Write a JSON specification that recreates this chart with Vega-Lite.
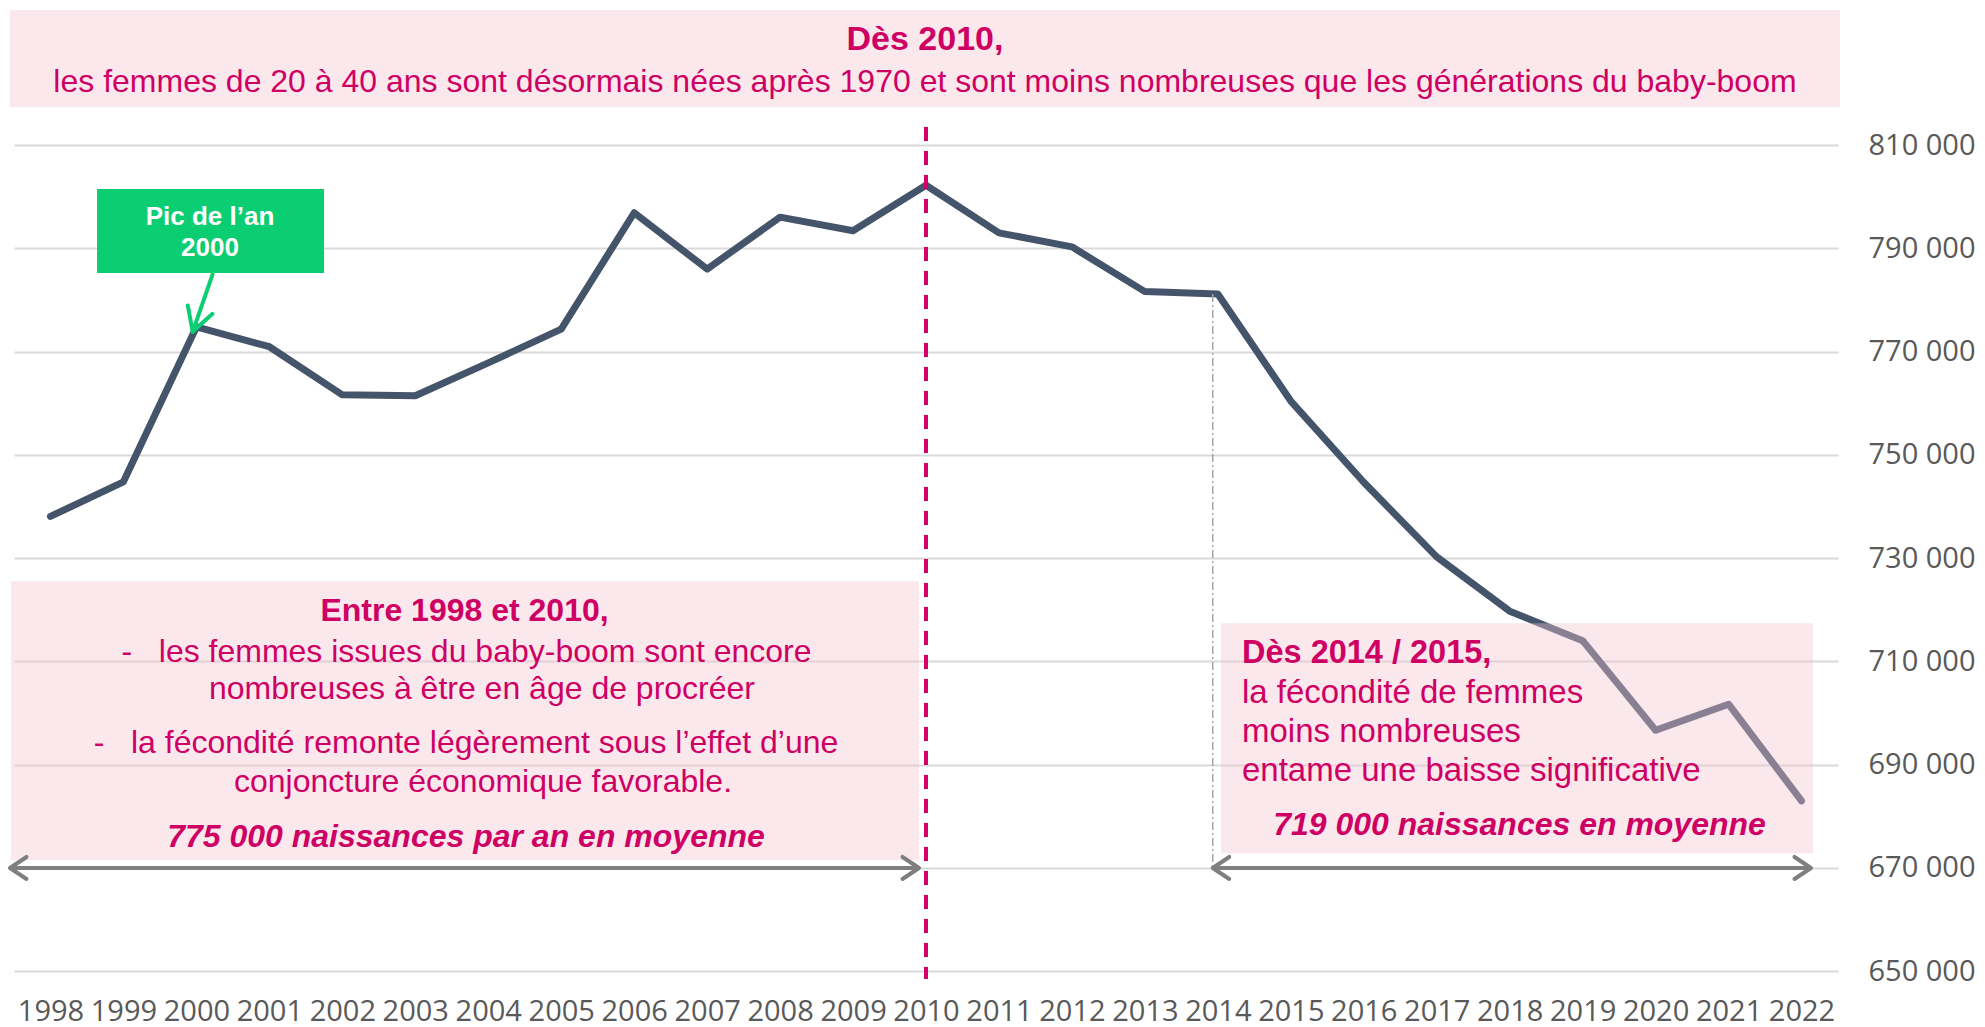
{
  "$schema": "https://vega.github.io/schema/vega-lite/v6.json",
  "width": 1824,
  "height": 852,
  "autosize": {"type": "none"},
  "padding": {"left": 14, "top": 127, "right": 147, "bottom": 48},
  "background": "white",
  "config": {"view": {"stroke": null}},
  "datasets": {
    "births": [
      {"year": 1998, "value": 738080},
      {"year": 1999, "value": 744791},
      {"year": 2000, "value": 774782},
      {"year": 2001, "value": 770945},
      {"year": 2002, "value": 761630},
      {"year": 2003, "value": 761464},
      {"year": 2004, "value": 767816},
      {"year": 2005, "value": 774355},
      {"year": 2006, "value": 796896},
      {"year": 2007, "value": 785985},
      {"year": 2008, "value": 796044},
      {"year": 2009, "value": 793420},
      {"year": 2010, "value": 802224},
      {"year": 2011, "value": 792996},
      {"year": 2012, "value": 790290},
      {"year": 2013, "value": 781621},
      {"year": 2014, "value": 781167},
      {"year": 2015, "value": 760421},
      {"year": 2016, "value": 744697},
      {"year": 2017, "value": 730242},
      {"year": 2018, "value": 719737},
      {"year": 2019, "value": 714029},
      {"year": 2020, "value": 696664},
      {"year": 2021, "value": 701719},
      {"year": 2022, "value": 683000}
    ],
    "boxes": [
      {"name": "top", "year": 1997.445, "year2": 2022.527, "value": 836150, "value2": 817361},
      {"name": "left", "year": 1997.459, "year2": 2009.904, "value": 725547, "value2": 671505},
      {"name": "right", "year": 2014.043, "year2": 2022.157, "value": 717411, "value2": 672860}
    ],
    "callout": [{"year": 1998.638, "year2": 2001.749, "value": 801477, "value2": 785206}],
    "calloutText": [
      {"year": 2000.186, "value": 796053, "label": "Pic de l’an"},
      {"year": 2000.186, "value": 790048, "label": "2000"}
    ],
    "calloutArrow": [{"year": 2000.223, "value": 785012, "year2": 1999.949, "value2": 773835}],
    "spans": [
      {"year": 1997.445, "year2": 2009.904, "value": 670000},
      {"year": 2013.93, "year2": 2022.13, "value": 670000}
    ],
    "guide2014": [{"year": 2013.93, "value": 781167, "value2": 670000}],
    "marker2010": [{"year": 2010}],
    "title2010": [{"year": 2009.986, "value": 830339, "label": "Dès 2010,"}],
    "boldCenter": [
      {"year": 2003.675, "value": 719794, "label": "Entre 1998 et 2010,"}
    ],
    "regularCenter": [
      {"year": 2009.986, "value": 822203, "label": "les femmes de 20 à 40 ans sont désormais nées après 1970 et sont moins nombreuses que les générations du baby-boom"},
      {"year": 2003.702, "value": 711852, "label": "-\u00a0\u00a0\u00a0les femmes issues du baby-boom sont encore"},
      {"year": 2003.914, "value": 704627, "label": "nombreuses à être en âge de procréer"},
      {"year": 2003.695, "value": 694167, "label": "-\u00a0\u00a0\u00a0la fécondité remonte légèrement sous l’effet d’une"},
      {"year": 2003.928, "value": 686613, "label": "conjoncture économique favorable."}
    ],
    "italicCenter": [
      {"year": 2003.695, "value": 676020, "label": "775 000 naissances par an en moyenne"},
      {"year": 2018.135, "value": 678284, "label": "719 000 naissances en moyenne"}
    ],
    "boldLeft": [{"year": 2014.331, "value": 711600, "label": "Dès 2014 / 2015,"}],
    "regularLeft": [
      {"year": 2014.331, "value": 703852, "label": "la fécondité de femmes"},
      {"year": 2014.331, "value": 696356, "label": "moins nombreuses"},
      {"year": 2014.331, "value": 688802, "label": "entame une baisse significative"}
    ]
  },
  "layer": [
    {
      "data": {"name": "births"},
      "mark": {"type": "line", "color": "#44546a", "strokeWidth": 7, "strokeCap": "round", "strokeJoin": "round"},
      "encoding": {
        "x": {
          "field": "year", "type": "quantitative",
          "scale": {"domain": [1997.5, 2022.5], "nice": false, "zero": false},
          "axis": {
            "title": null, "orient": "bottom", "grid": false, "domain": false, "ticks": false,
            "values": [1998, 1999, 2000, 2001, 2002, 2003, 2004, 2005, 2006, 2007, 2008, 2009, 2010, 2011, 2012, 2013, 2014, 2015, 2016, 2017, 2018, 2019, 2020, 2021, 2022],
            "format": "d", "labelFont": "Open Sans", "labelFontSize": 29, "labelColor": "#595959",
            "labelPadding": 18, "labelOverlap": false, "labelFlush": false
          }
        },
        "y": {
          "field": "value", "type": "quantitative",
          "scale": {"domain": [648500, 813500], "nice": false, "zero": false},
          "axis": {
            "title": null, "orient": "right", "grid": true, "gridColor": "#d9d9d9", "gridWidth": 2,
            "domain": false, "ticks": false,
            "values": [650000, 670000, 690000, 710000, 730000, 750000, 770000, 790000, 810000],
            "labelExpr": "format(datum.value / 1000, 'd') + ' 000'",
            "labelFont": "Open Sans", "labelFontSize": 29, "labelColor": "#595959",
            "labelPadding": 30, "labelOverlap": false, "labelFlush": false
          }
        }
      }
    },
    {
      "data": {"name": "guide2014"},
      "mark": {"type": "rule", "stroke": "#a6a6a6", "strokeWidth": 1.5, "strokeDash": [8, 3, 2, 3]},
      "encoding": {
        "x": {"field": "year", "type": "quantitative"},
        "y": {"field": "value", "type": "quantitative"},
        "y2": {"field": "value2"}
      }
    },
    {
      "data": {"name": "boxes"},
      "mark": {"type": "rect", "fill": "#f2c6d3", "fillOpacity": 0.4},
      "encoding": {
        "x": {"field": "year", "type": "quantitative"},
        "x2": {"field": "year2"},
        "y": {"field": "value", "type": "quantitative"},
        "y2": {"field": "value2"}
      }
    },
    {
      "data": {"name": "callout"},
      "mark": {"type": "rect", "fill": "#0bce73"},
      "encoding": {
        "x": {"field": "year", "type": "quantitative"},
        "x2": {"field": "year2"},
        "y": {"field": "value", "type": "quantitative"},
        "y2": {"field": "value2"}
      }
    },
    {
      "data": {"name": "calloutText"},
      "mark": {"type": "text", "font": "Liberation Sans", "fontSize": 26, "fontWeight": "bold", "color": "white", "align": "center", "baseline": "middle"},
      "encoding": {
        "x": {"field": "year", "type": "quantitative"},
        "y": {"field": "value", "type": "quantitative"},
        "text": {"field": "label"}
      }
    },
    {
      "data": {"name": "calloutArrow"},
      "mark": {"type": "rule", "stroke": "#0bce73", "strokeWidth": 4, "strokeCap": "round"},
      "encoding": {
        "x": {"field": "year", "type": "quantitative"},
        "y": {"field": "value", "type": "quantitative"},
        "x2": {"field": "year2"},
        "y2": {"field": "value2"}
      }
    },
    {
      "data": {"name": "calloutArrow"},
      "mark": {"type": "point", "shape": "M-1.8,-1L0,0L-1.8,1", "size": 676, "angle": 108.6, "filled": false, "stroke": "#0bce73", "strokeWidth": 4, "strokeCap": "round", "strokeJoin": "round", "opacity": 1},
      "encoding": {
        "x": {"field": "year2", "type": "quantitative"},
        "y": {"field": "value2", "type": "quantitative"}
      }
    },
    {
      "data": {"name": "spans"},
      "mark": {"type": "rule", "stroke": "#7f7f7f", "strokeWidth": 4},
      "encoding": {
        "x": {"field": "year", "type": "quantitative"},
        "x2": {"field": "year2"},
        "y": {"field": "value", "type": "quantitative"}
      }
    },
    {
      "data": {"name": "spans"},
      "mark": {"type": "point", "shape": "M-1.5,-1L0,0L-1.5,1", "size": 484, "filled": false, "stroke": "#7f7f7f", "strokeWidth": 4, "strokeCap": "round", "strokeJoin": "round", "opacity": 1},
      "encoding": {
        "x": {"field": "year2", "type": "quantitative"},
        "y": {"field": "value", "type": "quantitative"}
      }
    },
    {
      "data": {"name": "spans"},
      "mark": {"type": "point", "shape": "M-1.5,-1L0,0L-1.5,1", "size": 484, "angle": 180, "filled": false, "stroke": "#7f7f7f", "strokeWidth": 4, "strokeCap": "round", "strokeJoin": "round", "opacity": 1},
      "encoding": {
        "x": {"field": "year", "type": "quantitative"},
        "y": {"field": "value", "type": "quantitative"}
      }
    },
    {
      "data": {"name": "title2010"},
      "mark": {"type": "text", "font": "Liberation Sans", "fontSize": 34, "fontWeight": "bold", "color": "#cf0064", "align": "center", "baseline": "middle"},
      "encoding": {
        "x": {"field": "year", "type": "quantitative"},
        "y": {"field": "value", "type": "quantitative"},
        "text": {"field": "label"}
      }
    },
    {
      "data": {"name": "boldCenter"},
      "mark": {"type": "text", "font": "Liberation Sans", "fontSize": 32, "fontWeight": "bold", "color": "#cf0064", "align": "center", "baseline": "middle"},
      "encoding": {
        "x": {"field": "year", "type": "quantitative"},
        "y": {"field": "value", "type": "quantitative"},
        "text": {"field": "label"}
      }
    },
    {
      "data": {"name": "regularCenter"},
      "mark": {"type": "text", "font": "Liberation Sans", "fontSize": 32, "color": "#cf0064", "align": "center", "baseline": "middle"},
      "encoding": {
        "x": {"field": "year", "type": "quantitative"},
        "y": {"field": "value", "type": "quantitative"},
        "text": {"field": "label"}
      }
    },
    {
      "data": {"name": "italicCenter"},
      "mark": {"type": "text", "font": "Liberation Sans", "fontSize": 32, "fontWeight": "bold", "fontStyle": "italic", "color": "#cf0064", "align": "center", "baseline": "middle"},
      "encoding": {
        "x": {"field": "year", "type": "quantitative"},
        "y": {"field": "value", "type": "quantitative"},
        "text": {"field": "label"}
      }
    },
    {
      "data": {"name": "boldLeft"},
      "mark": {"type": "text", "font": "Liberation Sans", "fontSize": 32.5, "fontWeight": "bold", "color": "#cf0064", "align": "left", "baseline": "middle"},
      "encoding": {
        "x": {"field": "year", "type": "quantitative"},
        "y": {"field": "value", "type": "quantitative"},
        "text": {"field": "label"}
      }
    },
    {
      "data": {"name": "regularLeft"},
      "mark": {"type": "text", "font": "Liberation Sans", "fontSize": 33, "color": "#cf0064", "align": "left", "baseline": "middle"},
      "encoding": {
        "x": {"field": "year", "type": "quantitative"},
        "y": {"field": "value", "type": "quantitative"},
        "text": {"field": "label"}
      }
    },
    {
      "data": {"name": "marker2010"},
      "mark": {"type": "rule", "stroke": "#d6006a", "strokeWidth": 4, "strokeDash": [14, 10]},
      "encoding": {
        "x": {"field": "year", "type": "quantitative"}
      }
    }
  ]
}
